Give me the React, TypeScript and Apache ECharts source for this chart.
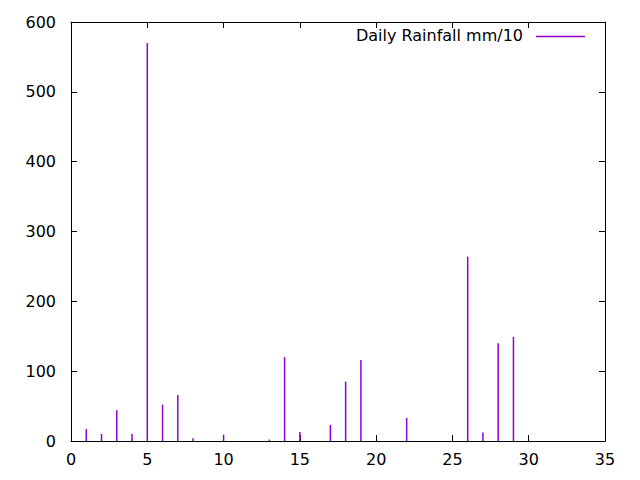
import React, { useEffect, useRef } from "react";
import * as echarts from "echarts";

const days = [1, 2, 3, 4, 5, 6, 7, 8, 10, 13, 14, 15, 17, 18, 19, 22, 26, 27, 28, 29];
const rainfall = [17, 10, 44, 10, 570, 52, 66, 4, 9, 2, 120, 13, 23, 85, 116, 33, 264, 12, 140, 149];
const seriesName = "Daily Rainfall mm/10";
const xTicks = [0, 5, 10, 15, 20, 25, 30, 35];
const yTicks = [0, 100, 200, 300, 400, 500, 600];

const PURPLE = "#9400D3";
const FONT = "DejaVu Sans";
const FS = 16;

export default function App() {
  const ref = useRef<HTMLDivElement>(null);
  useEffect(() => {
    if (!ref.current) return;
    const chart = echarts.init(ref.current, undefined, { renderer: "svg" });
    const axisCommon = {
      axisLine: { show: true, onZero: false, lineStyle: { color: "#000", width: 1 } },
      axisTick: { show: true, inside: true, length: 6, lineStyle: { color: "#000", width: 1 } },
      splitLine: { show: false },
    };
    chart.setOption({
      animation: false,
      backgroundColor: "#fff",
      grid: { left: 71, right: 35, top: 22, bottom: 39 },
      xAxis: [
        {
          type: "value",
          min: xTicks[0],
          max: xTicks[xTicks.length - 1],
          interval: 5,
          position: "bottom",
          ...axisCommon,
          axisLabel: { color: "#000", fontFamily: FONT, fontSize: FS, margin: 10 },
        },
        {
          type: "value",
          min: xTicks[0],
          max: xTicks[xTicks.length - 1],
          interval: 5,
          position: "top",
          ...axisCommon,
          axisLabel: { show: false },
        },
      ],
      yAxis: [
        {
          type: "value",
          min: yTicks[0],
          max: yTicks[yTicks.length - 1],
          interval: 100,
          position: "left",
          ...axisCommon,
          axisLabel: { color: "#000", fontFamily: FONT, fontSize: FS, margin: 15 },
        },
        {
          type: "value",
          min: yTicks[0],
          max: yTicks[yTicks.length - 1],
          interval: 100,
          position: "right",
          ...axisCommon,
          axisLabel: { show: false },
        },
      ],
      series: [
        {
          name: seriesName,
          type: "bar",
          xAxisIndex: 0,
          yAxisIndex: 0,
          barWidth: 1.5,
          itemStyle: { color: PURPLE },
          data: days.map((d, i) => [d, rainfall[i]]),
        },
      ],
      graphic: [
        {
          type: "text",
          right: 640 - 523,
          top: 27,
          style: {
            text: seriesName,
            fill: "#000",
            font: `${FS}px "${FONT}"`,
          },
        },
        {
          type: "line",
          shape: { x1: 536, y1: 36.5, x2: 585, y2: 36.5 },
          style: { stroke: PURPLE, lineWidth: 1.5 },
        },
      ],
    });
    return () => chart.dispose();
  }, []);
  return (
    <div
      ref={ref}
      style={{ position: "absolute", left: 0, top: 0, width: 640, height: 480 }}
    />
  );
}
